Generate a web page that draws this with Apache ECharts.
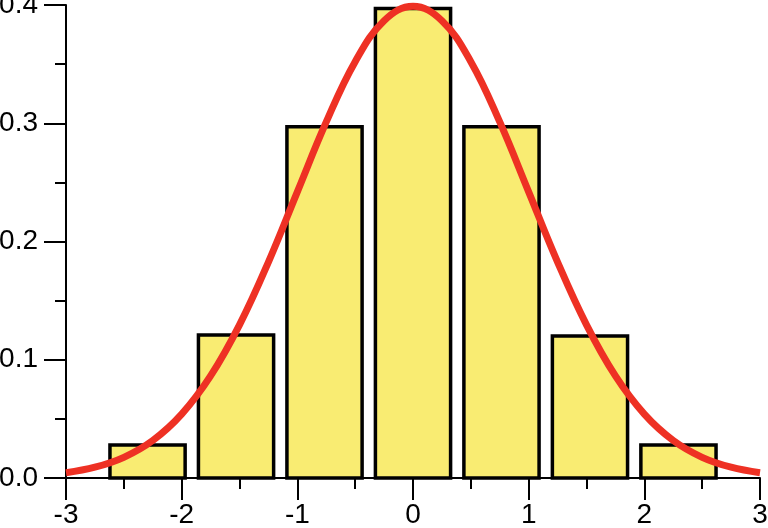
<!DOCTYPE html>
<html>
<head>
<meta charset="utf-8">
<script src="https://cdn.jsdelivr.net/npm/echarts@6/dist/echarts.min.js"></script>
<style>
html,body{margin:0;padding:0;background:#fff;}
#chart{width:768px;height:528px;}
</style>
</head>
<body>
<div id="chart"></div>
<script>
// Histogram bins (centre, height)
const binCenters = [-2.295, -1.53, -0.765, 0, 0.765, 1.53, 2.295];
const binHeights = [0.028, 0.121, 0.297, 0.397, 0.297, 0.120, 0.028];
const binWidth = 0.65;

// Density curve points
const curveX = [-3, -2.75, -2.5, -2.25, -2, -1.75, -1.5, -1.25, -1, -0.75, -0.5, -0.25, 0,
                 0.25, 0.5, 0.75, 1, 1.25, 1.5, 1.75, 2, 2.25, 2.5, 2.75, 3];
const curveY = [0.0044, 0.0091, 0.0175, 0.0317, 0.0540, 0.0863, 0.1295, 0.1826, 0.2420, 0.3011, 0.3521, 0.3867, 0.3989,
                0.3867, 0.3521, 0.3011, 0.2420, 0.1826, 0.1295, 0.0863, 0.0540, 0.0317, 0.0175, 0.0091, 0.0044];

const barData = binCenters.map((c, i) => [c, binHeights[i]]);
const curveData = curveX.map((x, i) => [x, curveY[i]]);

const chart = echarts.init(document.getElementById('chart'), null, {renderer: 'canvas'});
const axisCommon = {
  axisLine: {show: true, onZero: false, lineStyle: {color: '#000', width: 2}},
  axisTick: {show: true, length: 22, lineStyle: {color: '#000', width: 2}},
  minorTick: {show: true, splitNumber: 2, length: 11, lineStyle: {color: '#000', width: 2}},
  splitLine: {show: false},
  axisLabel: {color: '#000', fontSize: 28, fontFamily: 'Liberation Sans'}
};
chart.setOption({
  animation: false,
  backgroundColor: '#fff',
  grid: {left: 66, right: 8, top: 5, bottom: 50, containLabel: false, outerBoundsMode: 'none'},
  xAxis: Object.assign({type: 'value', min: -3, max: 3, interval: 1}, axisCommon, {
    axisLabel: Object.assign({}, axisCommon.axisLabel, {margin: 23, formatter: v => String(v).replace('−', '-')})
  }),
  yAxis: Object.assign({type: 'value', min: 0, max: 0.4, interval: 0.1}, axisCommon, {
    axisLabel: Object.assign({}, axisCommon.axisLabel, {margin: 28, formatter: v => v.toFixed(1)})
  }),
  series: [
    {
      type: 'custom',
      data: barData,
      z: 2,
      renderItem: function (params, api) {
        const c = api.value(0), h = api.value(1);
        const p0 = api.coord([c - binWidth / 2, h]);
        const p1 = api.coord([c + binWidth / 2, 0]);
        return {
          type: 'rect',
          shape: {x: p0[0], y: p0[1], width: p1[0] - p0[0], height: p1[1] - p0[1]},
          style: {fill: '#f9ec72', stroke: '#000', lineWidth: 3.5}
        };
      }
    },
    {
      type: 'line',
      data: curveData,
      z: 3,
      smooth: 0.4,
      showSymbol: false,
      symbol: 'none',
      clip: false,
      lineStyle: {color: '#ee3124', width: 7}
    }
  ]
});
</script>
</body>
</html>
